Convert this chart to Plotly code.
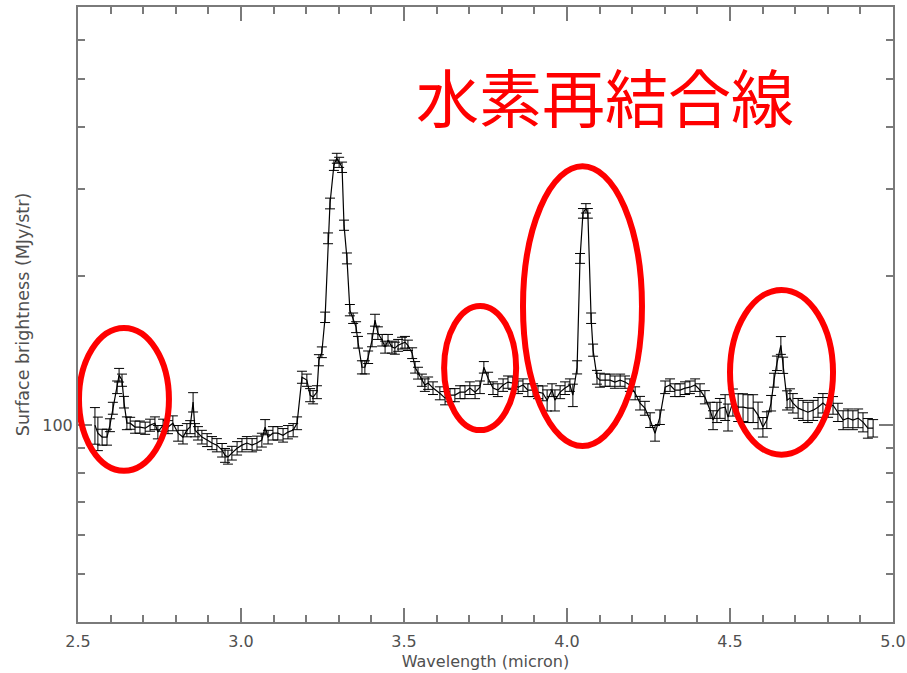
import plotly.graph_objects as go
import math

# Wavelength (micron)
wavelength = [
    2.552, 2.561, 2.574, 2.589, 2.598, 2.607, 2.620, 2.626, 2.635, 2.641,
    2.650, 2.660, 2.675, 2.690, 2.706, 2.721, 2.736, 2.745, 2.761, 2.776,
    2.791, 2.807, 2.822, 2.834, 2.844, 2.853, 2.859, 2.868, 2.880, 2.896,
    2.911, 2.926, 2.942, 2.951, 2.960, 2.972, 2.988, 3.003, 3.018, 3.034,
    3.049, 3.064, 3.074, 3.083, 3.098, 3.113, 3.129, 3.144, 3.160, 3.172,
    3.187, 3.202, 3.212, 3.221, 3.233, 3.239, 3.248, 3.258, 3.267, 3.273,
    3.285, 3.294, 3.301, 3.310, 3.316, 3.325, 3.334, 3.344, 3.353, 3.359,
    3.371, 3.380, 3.390, 3.402, 3.411, 3.420, 3.433, 3.442, 3.451, 3.463,
    3.472, 3.482, 3.494, 3.503, 3.512, 3.525, 3.534, 3.543, 3.555, 3.564,
    3.574, 3.589, 3.610, 3.626, 3.641, 3.656, 3.672, 3.687, 3.702, 3.718,
    3.733, 3.745, 3.758, 3.773, 3.788, 3.804, 3.819, 3.834, 3.850, 3.865,
    3.880, 3.896, 3.911, 3.926, 3.939, 3.954, 3.963, 3.979, 3.994, 4.009,
    4.018, 4.031, 4.040, 4.049, 4.058, 4.064, 4.074, 4.080, 4.092, 4.101,
    4.117, 4.132, 4.147, 4.163, 4.178, 4.193, 4.209, 4.224, 4.239, 4.255,
    4.270, 4.285, 4.301, 4.316, 4.331, 4.347, 4.362, 4.377, 4.393, 4.408,
    4.423, 4.439, 4.448, 4.460, 4.469, 4.485, 4.494, 4.509, 4.525, 4.540,
    4.555, 4.571, 4.586, 4.601, 4.613, 4.626, 4.635, 4.644, 4.656, 4.663,
    4.675, 4.684, 4.693, 4.709, 4.724, 4.739, 4.755, 4.770, 4.785, 4.801,
    4.816, 4.831, 4.847, 4.862, 4.877, 4.893, 4.908, 4.923, 4.939,
]

# Surface brightness (MJy/str)
brightness = [
    100.0, 96.3, 94.6, 94.6, 100.0, 108.2, 119.3, 126.2, 123.3, 111.3,
    100.9, 100.9, 99.1, 99.1, 98.6, 100.0, 100.9, 96.8, 100.0, 99.1,
    100.9, 96.3, 94.6, 97.7, 99.1, 111.3, 97.7, 96.3, 94.6, 93.3,
    92.0, 91.1, 89.0, 86.9, 86.2, 87.8, 89.8, 91.1, 92.0, 91.1,
    92.0, 93.3, 99.1, 94.6, 96.3, 96.3, 95.4, 96.8, 97.7, 100.9,
    125.0, 123.3, 115.0, 113.9, 116.6, 135.3, 140.4, 165.2, 238.6, 280.6,
    335.2, 346.3, 339.8, 332.1, 253.6, 217.3, 170.8, 164.5, 157.8, 147.1,
    130.9, 130.9, 137.2, 148.5, 163.0, 153.5, 148.5, 143.8, 148.5, 143.8,
    143.1, 145.0, 146.5, 147.1, 145.0, 139.8, 130.9, 127.4, 123.3, 120.5,
    121.6, 118.8, 116.0, 113.4, 115.0, 115.0, 116.6, 116.6, 118.8, 116.6,
    119.3, 130.9, 124.4, 118.8, 117.7, 120.5, 122.2, 121.6, 119.3, 120.5,
    117.7, 117.7, 116.6, 116.0, 112.3, 117.7, 112.3, 116.6, 118.8, 120.5,
    115.0, 130.9, 217.3, 268.0, 274.3, 268.0, 164.5, 141.8, 125.0, 123.3,
    123.3, 123.3, 122.2, 123.3, 122.2, 120.5, 116.0, 110.8, 108.2, 102.4,
    96.3, 103.8, 119.3, 120.5, 117.7, 117.7, 118.8, 119.3, 120.5, 117.7,
    113.9, 107.2, 102.4, 106.2, 108.2, 108.7, 103.8, 111.3, 108.7, 108.7,
    108.2, 108.2, 104.8, 99.1, 102.4, 110.8, 123.3, 133.4, 145.0, 132.2,
    112.3, 113.4, 110.8, 108.2, 107.2, 106.2, 107.2, 108.7, 110.8, 108.7,
    109.7, 106.2, 102.4, 103.3, 102.4, 103.3, 101.4, 98.6, 98.6,
]

# 1-sigma uncertainty (MJy/str)
uncertainty = [
    8.5, 7.5, 3.5, 3.5, 3.0, 3.0, 3.5, 4.0, 3.5, 3.0,
    3.0, 2.8, 2.8, 2.8, 2.8, 2.8, 3.0, 3.0, 2.8, 3.0,
    3.5, 3.5, 3.0, 3.0, 3.0, 5.0, 3.0, 3.0, 3.0, 2.8,
    2.8, 2.8, 2.8, 2.8, 2.8, 2.8, 2.8, 2.8, 2.8, 2.8,
    3.0, 3.0, 3.5, 3.0, 3.0, 3.0, 3.0, 3.0, 3.0, 3.0,
    3.5, 3.5, 3.5, 3.5, 3.5, 3.5, 3.5, 4.0, 6.0, 7.0,
    8.0, 8.0, 8.0, 8.0, 6.0, 5.5, 4.5, 4.0, 4.0, 4.0,
    4.0, 4.0, 4.0, 4.5, 4.5, 4.5, 4.0, 4.0, 4.0, 4.0,
    4.0, 4.0, 4.0, 4.0, 3.5, 3.5, 3.5, 3.5, 3.5, 3.5,
    3.5, 3.5, 3.5, 3.5, 3.5, 3.5, 3.5, 3.5, 3.5, 3.5,
    3.5, 3.5, 3.5, 3.5, 3.5, 3.5, 3.5, 3.5, 3.5, 3.5,
    3.5, 3.5, 3.5, 4.0, 5.5, 3.5, 5.5, 3.5, 3.5, 3.5,
    6.0, 4.0, 5.0, 6.0, 6.0, 6.0, 4.0, 4.0, 4.0, 4.0,
    3.5, 3.5, 3.5, 3.5, 3.5, 3.5, 3.5, 3.5, 3.5, 3.5,
    3.5, 3.5, 3.5, 3.5, 3.5, 3.5, 3.5, 3.5, 3.5, 3.5,
    3.5, 4.0, 4.5, 5.0, 5.0, 6.5, 6.5, 7.0, 7.0, 7.0,
    7.0, 7.0, 6.5, 4.5, 4.0, 4.0, 4.0, 4.5, 6.0, 5.0,
    5.0, 5.0, 5.0, 5.0, 5.0, 5.0, 5.0, 5.0, 5.0, 5.0,
    4.5, 4.5, 4.5, 4.5, 4.5, 4.5, 4.5, 4.5, 4.0,
]

x_tick_values = [2.5, 3.0, 3.5, 4.0, 4.5, 5.0]
x_tick_labels = ["2.5", "3.0", "3.5", "4.0", "4.5", "5.0"]
y_tick_values = [100]
y_tick_labels = ["100"]
y_minor_values = [50, 60, 70, 80, 90, 200, 300, 400, 500, 600]
y_limits = [40, 700]
x_limits = [2.5, 5.0]

title_text = "水素再結合線"

# Highlight ellipses: wavelength span and vertical span (fraction of plot height)
ellipse_x0 = [2.503, 3.623, 3.865, 4.500]
ellipse_x1 = [2.779, 3.844, 4.230, 4.816]
ellipse_y0 = [0.246, 0.312, 0.286, 0.272]
ellipse_y1 = [0.478, 0.514, 0.741, 0.540]

axis_gray = "#7a7a7a"
text_gray = "#505050"

fig = go.Figure()
fig.add_trace(go.Scatter(
    x=wavelength, y=brightness, mode="lines",
    line=dict(color="black", width=1.2),
    error_y=dict(type="data", array=uncertainty, visible=True,
                 color="black", thickness=1, width=5),
    showlegend=False,
))

for x0, x1, y0, y1 in zip(ellipse_x0, ellipse_x1, ellipse_y0, ellipse_y1):
    fig.add_shape(type="circle", xref="x", yref="paper",
                  x0=x0, x1=x1, y0=y0, y1=y1,
                  line=dict(color="#ff0000", width=6), layer="above")

fig.add_annotation(text=title_text, xref="x", yref="paper",
                   x=4.117, y=0.858, xanchor="center", yanchor="middle",
                   showarrow=False,
                   font=dict(family="Noto Sans CJK JP", size=63, color="#ff0000"))

fig.update_layout(
    width=907, height=673,
    margin=dict(l=78, r=14, t=7, b=51, autoexpand=False),
    plot_bgcolor="white", paper_bgcolor="white",
    font=dict(family="DejaVu Sans", color=text_gray, size=16),
)
fig.update_xaxes(
    range=x_limits, tickvals=x_tick_values, ticktext=x_tick_labels,
    ticks="inside", ticklen=14, tickwidth=1.5, tickcolor=axis_gray,
    showline=True, linecolor=axis_gray, linewidth=2, mirror="ticks",
    showgrid=False, zeroline=False, automargin=False,
    ticklabelstandoff=4,
    minor=dict(dtick=0.1, ticks="inside", ticklen=7, tickwidth=1.5,
               tickcolor=axis_gray, showgrid=False),
    title=dict(text="Wavelength (micron)", font=dict(size=16, color=text_gray),
               standoff=6),
    tickfont=dict(size=16, color=text_gray),
)
fig.update_yaxes(
    type="log", range=[math.log10(y_limits[0]), math.log10(y_limits[1])],
    tickvals=y_tick_values, ticktext=y_tick_labels,
    ticks="inside", ticklen=14, tickwidth=1.5, tickcolor=axis_gray,
    showline=True, linecolor=axis_gray, linewidth=2, mirror="ticks",
    showgrid=False, zeroline=False, automargin=False,
    minor=dict(tickmode="array", tickvals=y_minor_values, ticks="inside",
               ticklen=7, tickwidth=1.5, tickcolor=axis_gray, showgrid=False),
    title=dict(text="Surface brightness (MJy/str)", font=dict(size=17.5, color=text_gray),
               standoff=8),
    tickfont=dict(size=16, color=text_gray),
)

fig.write_html("out.html")
